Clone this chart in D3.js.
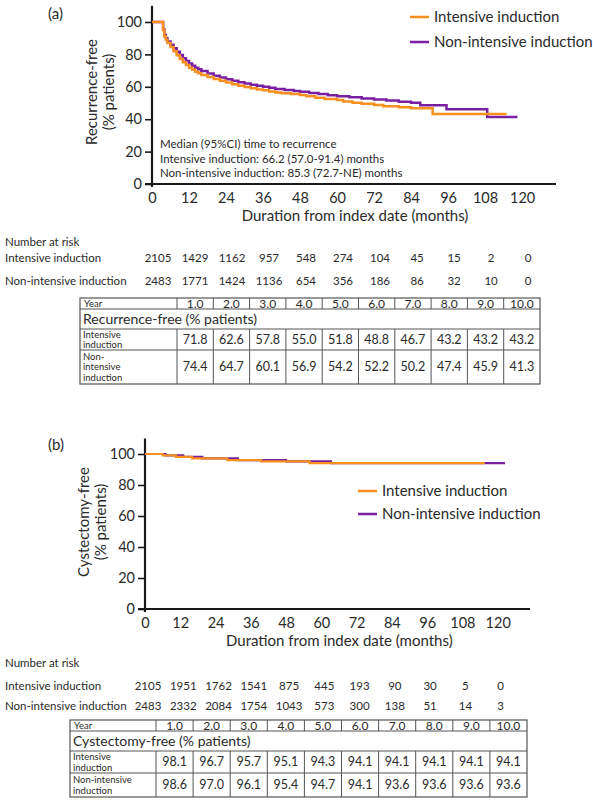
<!DOCTYPE html>
<html><head><meta charset="utf-8">
<script src="https://cdn.jsdelivr.net/npm/d3@7"></script>
<style>
body{margin:0;background:#fff}
svg{display:block}
text{font-family:Lato,"Noto Sans",sans-serif;fill:#2a2a2a}
</style>
</head><body>
<svg id="c" width="593" height="801"></svg>
<script>
// ---------- DATA ----------
const seriesNames = ["Intensive induction", "Non-intensive induction"];
const monthTicks = [0, 12, 24, 36, 48, 60, 72, 84, 96, 108, 120];
const pctTicks = [0, 20, 40, 60, 80, 100];
const yearLabels = ["1.0","2.0","3.0","4.0","5.0","6.0","7.0","8.0","9.0","10.0"];

// (a) Recurrence-free KM curves (month, % patients)
const recIntT = [0,3.2,3.6,4.0,4.5,5,6,7,8,9,10,11,12,13,14,15,16,18,20,22,24,26,28,30,32,34,36,38,40,42,45,48,50,53,56,60,62,65,68,72,75,80,84,91,115];
const recIntS = [100,100,95,91,89,87,84.5,82,79.5,77.2,75.2,73.4,71.8,70.5,69.3,68.3,67.3,66,64.8,63.7,62.6,61.6,60.7,59.9,59.1,58.4,57.8,57.1,56.5,56,55.5,55,54.2,53.2,52.5,51.8,51,50.2,49.5,48.8,48,47.3,46.7,43.2,43.2];
const recNonT = [0,3.2,3.6,4.0,4.5,5,6,7,8,9,10,11,12,13,14,15,16,18,20,22,24,26,28,30,32,34,36,38,40,43,46,48,51,54,57,60,64,68,72,76,80,84,87,95.5,108.7,118.5];
const recNonS = [100,100,95.5,92,90,88,86,83.8,81.7,79.6,77.7,75.9,74.4,73,71.8,70.8,69.8,68.2,66.8,65.7,64.7,63.7,62.8,62,61.3,60.7,60.1,59.4,58.7,58,57.4,56.9,56.2,55.5,54.8,54.2,53.5,52.8,52.2,51.5,50.8,50.2,48.6,46.2,41.3,41.3];

// (b) Cystectomy-free KM curves
const cysIntT = [0,6,10.5,16,28,39.5,56,115.6];
const cysIntS = [100,99.1,98.1,97.2,96.1,95.2,94.1,94.1];
const cysNonT = [0,7,13,19.5,31.6,48,63.3,122.5];
const cysNonS = [100,99.1,98.1,97.2,96.1,95.2,94.1,94.1];

// Number at risk
const recIntRisk = [2105,1429,1162,957,548,274,104,45,15,2,0];
const recNonRisk = [2483,1771,1424,1136,654,356,186,86,32,10,0];
const cysIntRisk = [2105,1951,1762,1541,875,445,193,90,30,5,0];
const cysNonRisk = [2483,2332,2084,1754,1043,573,300,138,51,14,3];

// Tables
const recIntTable = [71.8,62.6,57.8,55.0,51.8,48.8,46.7,43.2,43.2,43.2];
const recNonTable = [74.4,64.7,60.1,56.9,54.2,52.2,50.2,47.4,45.9,41.3];
const cysIntTable = [98.1,96.7,95.7,95.1,94.3,94.1,94.1,94.1,94.1,94.1];
const cysNonTable = [98.6,97.0,96.1,95.4,94.7,94.1,93.6,93.6,93.6,93.6];

const colors = ["#f7901e", "#7b1fa2"];

// ---------- DRAW ----------
const svg = d3.select("#c");

function drawKM(cfg) {
  const g = svg.append("g");
  const x = d3.scaleLinear().domain([0, 131]).range([cfg.x0, cfg.x1]);
  const y = d3.scaleLinear().domain([0, 100]).range([cfg.y0, cfg.y100]);

  g.append("text").attr("x", 48).attr("y", cfg.panelY).attr("font-size", 15).text(cfg.panel);

  // y axis
  const ya = d3.axisLeft(y).tickValues(pctTicks).tickSize(7).tickPadding(3).tickSizeOuter(0);
  const yg = g.append("g").attr("transform", `translate(${cfg.x0},0)`).call(ya);
  yg.select(".domain").remove();
  yg.selectAll(".tick line").attr("stroke", "#1a1a1a").attr("stroke-width", 1.6);
  yg.selectAll(".tick text").attr("font-size", 14.5).attr("font-family", "Lato").attr("fill", "#2a2a2a");
  g.append("line").attr("x1", cfg.x0).attr("x2", cfg.x0)
    .attr("y1", y(110)).attr("y2", cfg.y0 + 3)
    .attr("stroke", "#1a1a1a").attr("stroke-width", 2.2);

  // x axis
  const xa = d3.axisBottom(x).tickValues(monthTicks).tickSize(0).tickPadding(9).tickSizeOuter(0);
  const xg = g.append("g").attr("transform", `translate(0,${cfg.y0})`).call(xa);
  xg.select(".domain").remove();
  xg.selectAll(".tick text").attr("font-size", 14.5).attr("font-family", "Lato").attr("fill", "#2a2a2a");
  g.append("line").attr("x1", cfg.x0 - 7).attr("x2", cfg.x1)
    .attr("y1", cfg.y0).attr("y2", cfg.y0)
    .attr("stroke", "#1a1a1a").attr("stroke-width", 2.2);

  // axis titles
  g.append("text").attr("x", x(60) + 18).attr("y", cfg.y0 + 37)
    .attr("text-anchor", "middle").attr("font-size", 15).text("Duration from index date (months)");
  cfg.yTitle.forEach((t, i) => {
    g.append("text")
      .attr("transform", `translate(${cfg.yTitleX[i]},${cfg.yTitleY}) rotate(-90)`)
      .attr("text-anchor", "middle").attr("dy", "0.35em").attr("font-size", 15).text(t);
  });

  // curves (non-intensive first, intensive on top)
  const line = d3.line().curve(d3.curveStepAfter).x(d => x(d[0])).y(d => y(d[1]));
  [[cfg.nonT, cfg.nonS, colors[1]], [cfg.intT, cfg.intS, colors[0]]].forEach(([T, S, c]) => {
    g.append("path").datum(T.map((t, i) => [t, S[i]]))
      .attr("d", line).attr("fill", "none").attr("stroke", c)
      .attr("stroke-width", cfg.lw);
  });

  // legend
  seriesNames.forEach((n, i) => {
    const ly = cfg.legY + i * cfg.legDy;
    g.append("line").attr("x1", cfg.legX).attr("x2", cfg.legX + 19)
      .attr("y1", ly).attr("y2", ly).attr("stroke", colors[i]).attr("stroke-width", 2.5);
    g.append("text").attr("x", cfg.legX + 24).attr("y", ly).attr("dy", "0.35em")
      .attr("font-size", 15).text(n);
  });

  // number at risk
  g.append("text").attr("x", 5).attr("y", cfg.riskY[0]).attr("font-size", 11.5).text("Number at risk");
  [cfg.intRisk, cfg.nonRisk].forEach((arr, i) => {
    g.append("text").attr("x", 5).attr("y", cfg.riskY[i + 1]).attr("font-size", 11.5).text(seriesNames[i]);
    g.selectAll(null).data(arr).enter().append("text")
      .attr("x", (d, j) => x(monthTicks[j]) + cfg.riskDx)
      .attr("y", cfg.riskY[i + 1]).attr("text-anchor", "middle")
      .attr("font-size", 11.5).text(d => d);
  });
  return {g, x, y};
}

function drawTable(cfg) {
  const g = svg.append("g");
  const r = cfg.rows;
  const colW = (cfg.x1 - cfg.xLab) / yearLabels.length;
  const st = "#555";
  g.append("rect").attr("x", cfg.x0).attr("y", r[0]).attr("width", cfg.x1 - cfg.x0)
    .attr("height", r[4] - r[0]).attr("fill", "none").attr("stroke", st).attr("stroke-width", 1.2);
  [r[1], r[2], r[3]].forEach(yy => g.append("line").attr("x1", cfg.x0).attr("x2", cfg.x1)
    .attr("y1", yy).attr("y2", yy).attr("stroke", st).attr("stroke-width", 1));
  [[r[0], r[1]], [r[2], r[4]]].forEach(([a, b]) => {
    for (let k = 0; k < yearLabels.length; k++) {
      const xx = cfg.xLab + k * colW;
      g.append("line").attr("x1", xx).attr("x2", xx).attr("y1", a).attr("y2", b)
        .attr("stroke", st).attr("stroke-width", 1);
    }
  });
  g.append("text").attr("x", cfg.x0 + 4).attr("y", r[1] - 2).attr("font-size", 9.5).attr("fill", "#555").text("Year");
  yearLabels.forEach((t, k) => g.append("text").attr("x", cfg.xLab + (k + 0.5) * colW)
    .attr("y", r[1] - 1.5).attr("text-anchor", "middle").attr("font-size", 12).text(t));
  g.append("text").attr("x", cfg.x0 + 3).attr("y", (r[1] + r[2]) / 2).attr("dy", "0.35em")
    .attr("font-size", 14).text(cfg.title);
  [[cfg.intLabel, cfg.intVals, r[2], r[3]], [cfg.nonLabel, cfg.nonVals, r[3], r[4]]].forEach(([lab, vals, a, b]) => {
    const lh = 10.5;
    const start = (a + b) / 2 - (lab.length - 1) * lh / 2;
    lab.forEach((l, i) => g.append("text").attr("x", cfg.x0 + 3).attr("y", start + i * lh)
      .attr("dy", "0.35em").attr("font-size", 9.5).attr("fill", "#555").text(l));
    vals.forEach((v, k) => g.append("text").attr("x", cfg.xLab + (k + 0.5) * colW)
      .attr("y", (a + b) / 2).attr("dy", "0.35em").attr("text-anchor", "middle")
      .attr("font-size", 12.5).attr("fill", "#444").text(v.toFixed(1)));
  });
}

// Panel (a)
drawKM({
  panel: "(a)", panelY: 19,
  x0: 152, x1: 556, y0: 184, y100: 22, lw: 2.5,
  yTitle: ["Recurrence-free", "(% patients)"], yTitleX: [92, 109], yTitleY: 92,
  intT: recIntT, intS: recIntS, nonT: recNonT, nonS: recNonS,
  legX: 410, legY: 17, legDy: 25,
  riskY: [246, 262, 285], riskDx: 6,
  intRisk: recIntRisk, nonRisk: recNonRisk
});
const ann = svg.append("g");
["Median (95%CI) time to recurrence",
 "Intensive induction: 66.2 (57.0-91.4) months",
 "Non-intensive induction: 85.3 (72.7-NE) months"].forEach((t, i) =>
  ann.append("text").attr("x", 160).attr("y", 148 + i * 14.5).attr("font-size", 11.5).text(t));

drawTable({
  x0: 80, xLab: 177, x1: 540, rows: [298, 309, 329, 350, 384],
  title: "Recurrence-free (% patients)",
  intLabel: ["Intensive", "induction"], nonLabel: ["Non-", "intensive", "induction"],
  intVals: recIntTable, nonVals: recNonTable
});

// Panel (b)
drawKM({
  panel: "(b)", panelY: 450,
  x0: 145, x1: 530, y0: 609, y100: 454, lw: 2.2,
  yTitle: ["Cystectomy-free", "(% patients)"], yTitleX: [84, 101], yTitleY: 522,
  intT: cysIntT, intS: cysIntS, nonT: cysNonT, nonS: cysNonS,
  legX: 358, legY: 491, legDy: 23,
  riskY: [667, 690, 710], riskDx: 3,
  intRisk: cysIntRisk, nonRisk: cysNonRisk
});

drawTable({
  x0: 70, xLab: 156, x1: 527, rows: [720, 731, 751, 773, 797],
  title: "Cystectomy-free (% patients)",
  intLabel: ["Intensive", "induction"], nonLabel: ["Non-intensive", "induction"],
  intVals: cysIntTable, nonVals: cysNonTable
});
</script>
</body></html>
